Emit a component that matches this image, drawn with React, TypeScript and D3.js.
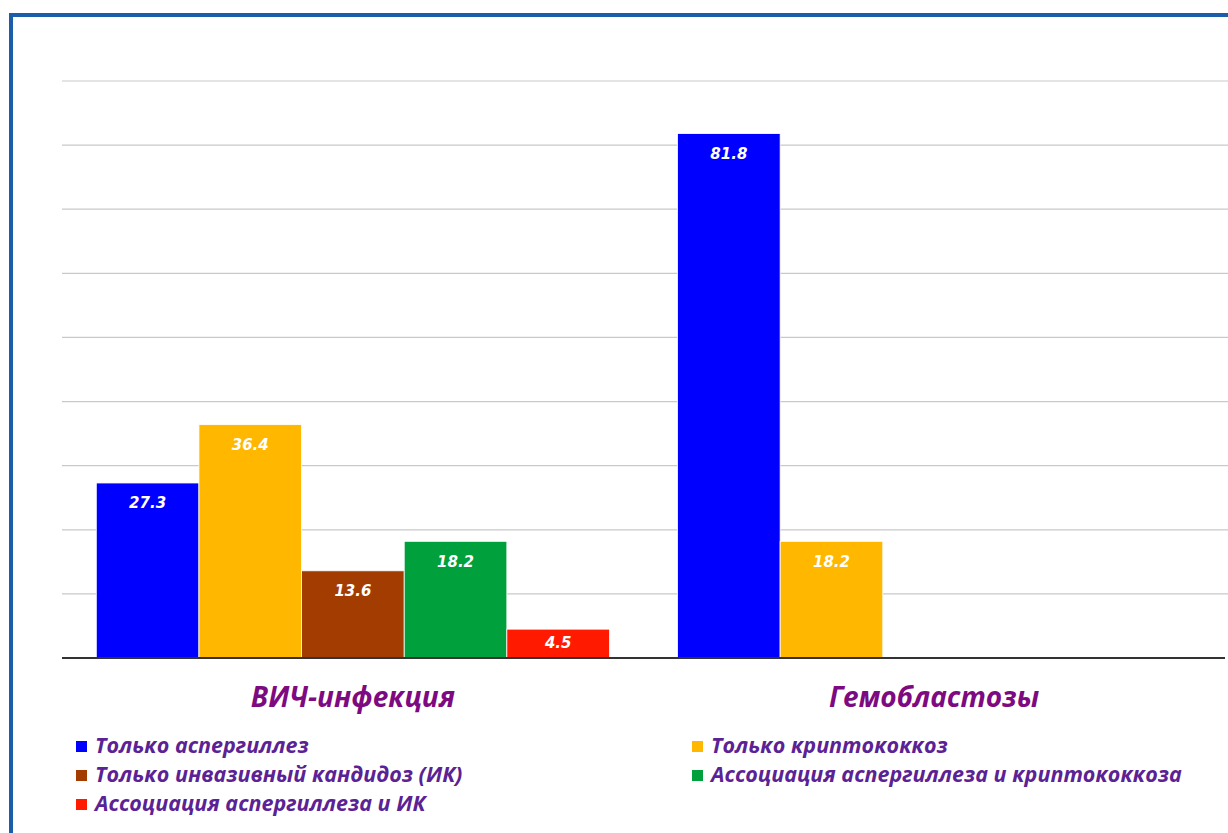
import React from "react";
import * as d3 from "d3";

const categories = ["ВИЧ-инфекция", "Гемобластозы"];
const seriesNames = [
  "Только аспергиллез",
  "Только криптококкоз",
  "Только инвазивный кандидоз (ИК)",
  "Ассоциация аспергиллеза и криптококкоза",
  "Ассоциация аспергиллеза и ИК",
];
const seriesColors = ["#0000ff", "#ffb700", "#a33c00", "#00a13c", "#ff1a00"];
const hivValues = [27.3, 36.4, 13.6, 18.2, 4.5];
const hemoValues = [81.8, 18.2, 0, 0, 0];
const yTicks = [0, 10, 20, 30, 40, 50, 60, 70, 80, 90];
// legend order (row-major, 2 columns)
const legendOrder = [0, 1, 2, 3, 4];

export default function App() {
  const W = 1228;
  const H = 833;
  const left = 62;
  const right = 1225;
  const y = d3.scaleLinear().domain([0, 90]).range([658, 81]);
  const x0 = d3
    .scaleBand<string>()
    .domain(categories)
    .range([left, right])
    .paddingInner(0.117)
    .paddingOuter(0.059);
  const x1 = d3
    .scaleBand<string>()
    .domain(seriesNames)
    .range([0, x0.bandwidth()])
    .padding(0);
  const values = [hivValues, hemoValues];

  const legendX = [76, 692];
  const legendY = [747, 776, 805];

  return (
    <svg
      width={W}
      height={H}
      style={{ position: "absolute", left: 0, top: 0, background: "#fff" }}
    >
      <rect x={0} y={0} width={W} height={H} fill="#fff" />
      {/* frame */}
      <rect
        x={11}
        y={15}
        width={W + 20}
        height={H + 20}
        fill="none"
        stroke="#1b5cab"
        strokeWidth={4}
      />
      {/* grid */}
      {yTicks.slice(1).map((t) => (
        <line
          key={t}
          x1={left}
          x2={W}
          y1={y(t)}
          y2={y(t)}
          stroke="#c9c9c9"
          strokeWidth={1.2}
        />
      ))}
      {/* bars */}
      {categories.map((c, ci) => (
        <g key={c} transform={`translate(${x0(c)},0)`}>
          {seriesNames.map((s, si) => {
            const v = values[ci][si];
            if (!v) return null;
            const top = y(v);
            const h = y(0) - top;
            const bx = x1(s)!;
            const ly = h > 40 ? top + 21 : top + h / 2;
            return (
              <g key={s}>
                <rect
                  x={bx}
                  y={top}
                  width={x1.bandwidth()}
                  height={h}
                  fill={seriesColors[si]}
                  stroke="#ffffff"
                  strokeWidth={0.8}
                />
                <text
                  x={bx + x1.bandwidth() / 2}
                  y={ly}
                  textAnchor="middle"
                  dominantBaseline="middle"
                  fill="#ffffff"
                  fontFamily="'DejaVu Sans', Verdana, sans-serif"
                  fontWeight="bold"
                  fontStyle="italic"
                  fontSize={15}
                >
                  {v.toFixed(1)}
                </text>
              </g>
            );
          })}
        </g>
      ))}
      {/* baseline */}
      <line x1={left} x2={right} y1={y(0)} y2={y(0)} stroke="#333" strokeWidth={2.2} />
      {/* category labels */}
      {categories.map((c) => (
        <text
          key={c}
          x={x0(c)! + x0.bandwidth() / 2}
          y={700}
          textAnchor="middle"
          dominantBaseline="middle"
          fill="#7d0a80"
          fontFamily="'Open Sans', sans-serif"
          fontWeight="bold"
          fontStyle="italic"
          fontSize={28}
        >
          {c}
        </text>
      ))}
      {/* legend */}
      {legendOrder.map((si, i) => {
        const col = i % 2;
        const row = Math.floor(i / 2);
        const lx = legendX[col];
        const ly = legendY[row];
        return (
          <g key={si}>
            <rect x={lx} y={ly - 6} width={11} height={11} fill={seriesColors[si]} />
            <text
              x={lx + 19}
              y={ly}
              dominantBaseline="middle"
              fill="#5a2294"
              fontFamily="'Open Sans', sans-serif"
              fontWeight="bold"
              fontStyle="italic"
              fontSize={21.5}
            >
              {seriesNames[si]}
            </text>
          </g>
        );
      })}
    </svg>
  );
}
